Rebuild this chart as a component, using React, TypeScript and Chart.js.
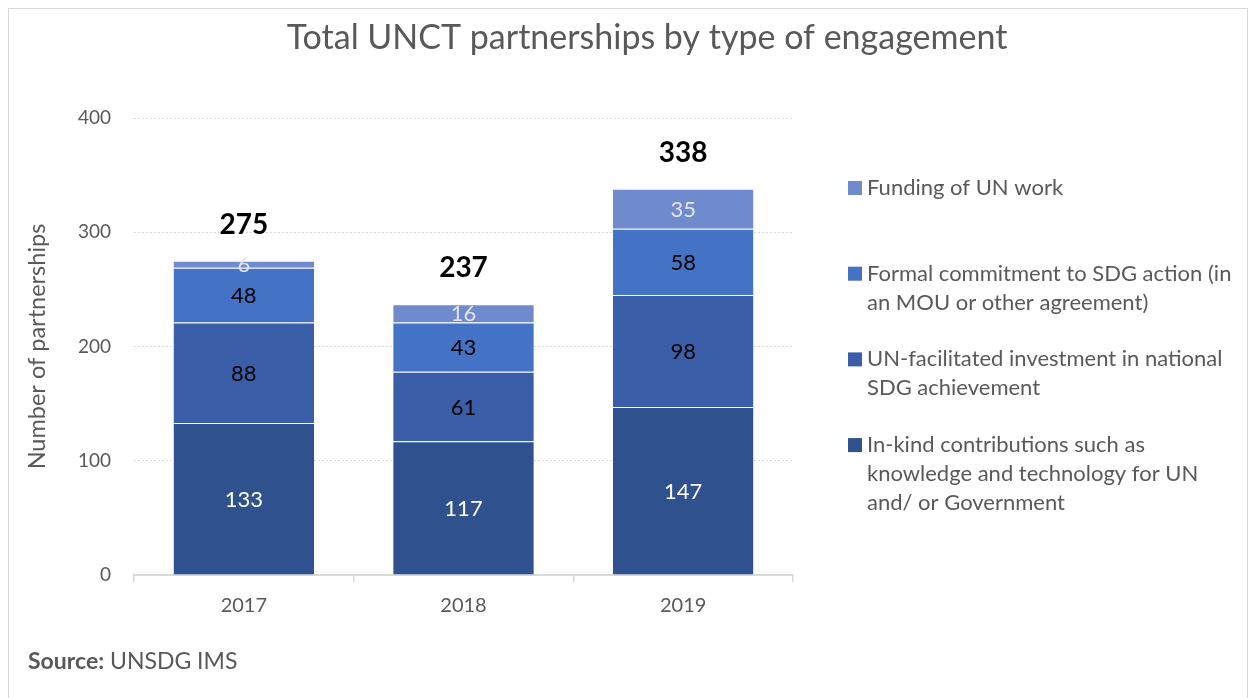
import React, { useEffect, useRef } from "react";
import { Chart, registerables } from "chart.js";

Chart.register(...registerables);

// ---- Data ----
const years = ["2017", "2018", "2019"];
const inKind = [133, 117, 147];
const unFacilitated = [88, 61, 98];
const formalCommitment = [48, 43, 58];
const funding = [6, 16, 35];
const yTickValues = [0, 100, 200, 300, 400];

const seriesNames = [
  "In-kind contributions such as knowledge and technology for UN and/ or Government",
  "UN-facilitated investment in national SDG achievement",
  "Formal commitment to SDG action (in an MOU or other agreement)",
  "Funding of UN work",
];
const legendLines = [
  ["In-kind contributions such as", "knowledge and technology for UN", "and/ or Government"],
  ["UN-facilitated investment in national", "SDG achievement"],
  ["Formal commitment to SDG action (in", "an MOU or other agreement)"],
  ["Funding of UN work"],
];
const titleText = "Total UNCT partnerships by type of engagement";
const yAxisTitle = "Number of partnerships";
const sourceLabel = "Source:";
const sourceText = " UNSDG IMS";

// ---- Styles ----
const FONT = "Lato";
const GREY = "#595959";
const seriesColors = ["#2F528F", "#3A5FA8", "#4472C4", "#6F8BCD"];
const valueLabelColors = ["#FFFFFF", "#000000", "#000000", "#E4E4E4"];

const overlayPlugin = {
  id: "overlay",
  afterDatasetsDraw(chart: any) {
    const ctx = chart.ctx;
    ctx.save();
    ctx.textAlign = "center";
    ctx.textBaseline = "middle";
    ctx.font = `22px ${FONT}`;
    chart.data.datasets.forEach((ds: any, di: number) => {
      const meta = chart.getDatasetMeta(di);
      meta.data.forEach((el: any, i: number) => {
        const v = ds.data[i];
        ctx.fillStyle = valueLabelColors[di];
        ctx.fillText(String(v), el.x, (el.y + el.base) / 2 + 1);
      });
    });
    // totals
    ctx.font = `bold 28px ${FONT}`;
    ctx.fillStyle = "#000000";
    const yScale = chart.scales.y;
    const xScale = chart.scales.x;
    years.forEach((_, i) => {
      let total = 0;
      chart.data.datasets.forEach((ds: any) => (total += ds.data[i]));
      ctx.fillText(String(total), xScale.getPixelForValue(i), yScale.getPixelForValue(total) - 36);
    });
    ctx.restore();
  },
  afterDraw(chart: any) {
    const ctx = chart.ctx;
    ctx.save();
    // title
    ctx.fillStyle = GREY;
    ctx.textAlign = "center";
    ctx.textBaseline = "middle";
    ctx.font = `34px ${FONT}`;
    ctx.fillText(titleText, 638, 29);
    // legend
    ctx.textAlign = "left";
    ctx.font = `22px ${FONT}`;
    const order = [3, 2, 1, 0];
    order.forEach((di, k) => {
      const y0 = 179 + k * 85.7;
      ctx.fillStyle = seriesColors[di];
      ctx.fillRect(839, y0 - 7, 14, 14);
      ctx.fillStyle = GREY;
      legendLines[di].forEach((line, li) => {
        ctx.fillText(line, 858, y0 + li * 29);
      });
    });
    // source
    ctx.font = `bold 23px ${FONT}`;
    ctx.fillStyle = GREY;
    ctx.fillText(sourceLabel, 19, 653);
    const w = ctx.measureText(sourceLabel).width;
    ctx.font = `23px ${FONT}`;
    ctx.fillText(sourceText, 19 + w, 653);
    ctx.restore();
  },
};

export default function App() {
  const ref = useRef<HTMLCanvasElement>(null);
  useEffect(() => {
    if (!ref.current) return;
    const data = [inKind, unFacilitated, formalCommitment, funding];
    const chart = new Chart(ref.current, {
      type: "bar",
      data: {
        labels: years,
        datasets: data.map((d, i) => ({
          label: seriesNames[i],
          data: d,
          backgroundColor: seriesColors[i],
          borderColor: "rgba(255,255,255,0.3)",
          borderWidth: { top: 1, left: 0, right: 0, bottom: 0 },
          borderSkipped: false,
          categoryPercentage: 0.8,
          barPercentage: 0.8,
        })),
      },
      options: {
        animation: false,
        responsive: false,
        maintainAspectRatio: false,
        layout: { padding: { left: 0, right: 454, top: 109, bottom: 72 } },
        plugins: {
          legend: { display: false },
          title: { display: false },
          tooltip: { enabled: false },
        },
        scales: {
          x: {
            stacked: true,
            afterFit: (s: any) => {
              s.height = 60;
            },
            grid: {
              display: true,
              drawOnChartArea: false,
              drawTicks: true,
              tickLength: 7,
              offset: true,
              color: "#D9D9D9",
              lineWidth: 1.5,
            },
            border: { display: true, color: "#D9D9D9", width: 2 },
            ticks: {
              color: GREY,
              font: { family: FONT, size: 20 },
              padding: 12,
            },
          },
          y: {
            stacked: true,
            min: 0,
            max: 400,
            afterFit: (s: any) => {
              s.width = 125;
            },
            afterBuildTicks: (s: any) => {
              s.ticks = yTickValues.map((v) => ({ value: v }));
            },
            grid: {
              drawTicks: false,
              color: (c: any) => (c.tick && c.tick.value === 0 ? "rgba(0,0,0,0)" : "#D9D9D9"),
              lineWidth: 1,
            },
            border: { display: false, dash: [2, 2] },
            ticks: {
              color: GREY,
              font: { family: FONT, size: 19 },
              padding: 23,
            },
            title: {
              display: true,
              text: yAxisTitle,
              color: GREY,
              font: { family: FONT, size: 23.5 },
              padding: { top: 14, bottom: 0 },
            },
          },
        },
      },
      plugins: [overlayPlugin],
    });
    return () => chart.destroy();
  }, []);

  return (
    <div
      style={{
        width: 1240,
        height: 700,
        border: "1px solid #D9D9D9",
        boxSizing: "border-box",
        background: "#FFFFFF",
      }}
    >
      <canvas ref={ref} width={1238} height={698} style={{ display: "block" }} />
    </div>
  );
}
